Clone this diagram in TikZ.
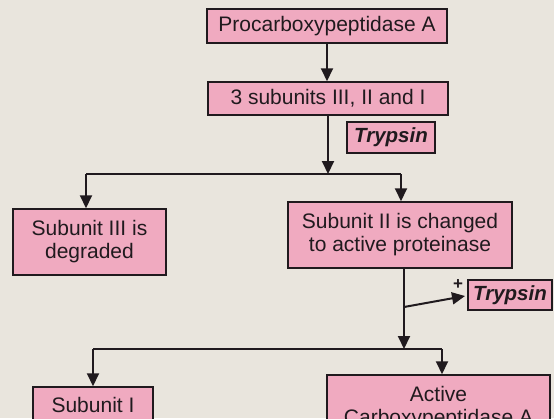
\documentclass[tikz,border=0pt]{standalone}
\usepackage{fontspec}
\setmainfont{Liberation Sans}
\usetikzlibrary{arrows.meta}
\definecolor{paper}{RGB}{233,229,221}
\definecolor{boxpink}{RGB}{240,170,192}
\definecolor{ink}{RGB}{32,26,30}
\begin{document}
\begin{tikzpicture}[x=1pt,y=-1pt,
  box/.style={draw=ink, line width=1.5pt, fill=boxpink, inner sep=0pt, align=center,
    font=\fontsize{21}{23}\selectfont, text=ink},
  enzyme/.style={box, font=\fontsize{20.5}{23}\selectfont\bfseries\itshape},
  conn/.style={draw=ink, line width=2pt},
  arr/.style={conn, -{Triangle[length=13pt,width=12pt]}},
]
\useasboundingbox (0,0) rectangle (554,418);
\fill[paper] (0,0) rectangle (554,418);
\clip (0,0) rectangle (554,418);

\node[box, minimum width=240pt, minimum height=34pt] (b1) at (327,26) {Procarboxypeptidase A};
\node[box, minimum width=240pt, minimum height=33pt] (b2) at (328,98.5) {3 subunits III, II and I};
\node[enzyme, minimum width=88pt, minimum height=31pt] (t1) at (391,137.5) {Trypsin};
\node[box, minimum width=153pt, minimum height=66pt] (L) at (89.5,242) {Subunit III is\\degraded};
\node[box, minimum width=224pt, minimum height=66pt] (R) at (400,235) {Subunit II is changed\\to active proteinase};
\node[enzyme, minimum width=84pt, minimum height=30pt] (t2) at (510,295) {Trypsin};
\node[box, minimum width=120pt, minimum height=36pt] (S1) at (93,405) {Subunit I};
\node[box, minimum width=223pt, minimum height=66pt] (A) at (438.5,408) {Active\\Carboxypeptidase A};

\coordinate (h1l) at (86,174);
\coordinate (h1r) at (401,174);
\coordinate (br) at (404,307);
\coordinate (h2l) at (93,349);
\coordinate (h2r) at (442,349);
\coordinate (tt) at (465,296);

\draw[arr] (b1.south) -- (b1.south |- b2.north);
\draw[conn] (h1l) -- (h1r);
\draw[arr] (b2.south) -- (b2.south |- h1r);
\draw[arr] (h1l) -- (h1l |- L.north);
\draw[arr] (h1r) -- (h1r |- R.north);

\draw[arr] (R.south -| br) -- (br |- h2r);
\draw[arr] (br) -- (tt);
\node[font=\fontsize{17}{17}\selectfont\bfseries, text=ink, inner sep=0pt] (plus) at (458,285) {+};

\draw[conn] (h2l) -- (h2r);
\draw[arr] (h2l) -- (h2l |- S1.north);
\draw[arr] (h2r) -- (h2r |- A.north);
\end{tikzpicture}
\end{document}
